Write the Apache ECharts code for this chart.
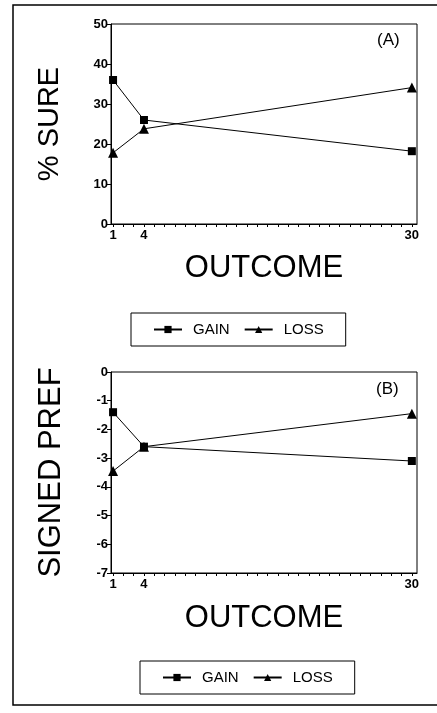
<!DOCTYPE html>
<html>
<head>
<meta charset="utf-8">
<script src="https://cdn.jsdelivr.net/npm/echarts@6/dist/echarts.min.js"></script>
<style>
html,body{margin:0;padding:0;background:#fff;}
#c{width:437px;height:713px;}
</style>
</head>
<body>
<div id="c"></div>
<script>
var outcomes = [1, 4, 30];
var gainSure = [36, 26, 18.2];
var lossSure = [17.8, 23.8, 34.1];
var gainPref = [-1.4, -2.6, -3.1];
var lossPref = [-3.45, -2.6, -1.45];
var xTickValues = [1,2,3,4,5,6,7,8,9,10,11,12,13,14,15,16,17,18,19,20,21,22,23,24,25,26,27,28,29,30];
var xTickLabels = [1, 4, 30];
var seriesNames = ['GAIN', 'LOSS'];

function pairs(ys) { return outcomes.map(function (x, i) { return [x, ys[i]]; }); }

var FONT = 'Liberation Sans';
var chart = echarts.init(document.getElementById('c'), null, {renderer: 'canvas'});

function xAxisDef(gi, gap) {
  return {
    type: 'value', gridIndex: gi, min: 0.8, max: 30.5,
    name: 'OUTCOME', nameLocation: 'middle', nameGap: gap,
    nameTextStyle: {fontFamily: FONT, fontSize: 31, color: '#000'},
    axisLine: {show: true, onZero: false, lineStyle: {color: '#000', width: 1}},
    axisTick: {show: true, length: 3, customValues: xTickValues, lineStyle: {color: '#000'}},
    axisLabel: {customValues: xTickLabels, margin: 5, fontFamily: FONT, fontSize: 13, fontWeight: 'bold', color: '#000'},
    splitLine: {show: false}
  };
}
function yAxisDef(gi, min, max, interval, name, size, gap) {
  return {
    type: 'value', gridIndex: gi, min: min, max: max, interval: interval,
    name: name, nameLocation: 'middle', nameGap: gap, nameRotate: 90,
    nameTextStyle: {fontFamily: FONT, fontSize: size, color: '#000'},
    axisLine: {show: true, onZero: false, lineStyle: {color: '#000', width: 1}},
    axisTick: {show: true, length: 4, lineStyle: {color: '#000'}},
    axisLabel: {margin: 3, fontFamily: FONT, fontSize: 13, fontWeight: 'bold', color: '#000'},
    splitLine: {show: false}
  };
}
function legendDef(left, top) {
  return {
    left: left, top: top, data: seriesNames,
    orient: 'horizontal',
    borderColor: '#000', borderWidth: 1, borderRadius: 0,
    padding: [9, 22, 9, 22],
    itemWidth: 28, itemHeight: 9, itemGap: 14,
    selectedMode: false,
    textStyle: {fontFamily: FONT, fontSize: 15, color: '#000', padding: [0, 0, 0, 6]}
  };
}
function lineSeries(name, xi, ys, sym, size, z) {
  return {
    type: 'line', name: name, xAxisIndex: xi, yAxisIndex: xi,
    data: pairs(ys), symbol: sym, symbolSize: size, z: z,
    lineStyle: {color: '#000', width: 1},
    itemStyle: {color: '#000'},
    animation: false
  };
}

chart.setOption({
  backgroundColor: '#fff',
  animation: false,
  grid: [
    {left: 111, top: 24, width: 306, height: 200, show: true, borderColor: '#000', borderWidth: 1},
    {left: 111, top: 372, width: 306, height: 201, show: true, borderColor: '#000', borderWidth: 1}
  ],
  xAxis: [xAxisDef(0, 29), xAxisDef(1, 30)],
  yAxis: [
    yAxisDef(0, 0, 50, 10, '% SURE', 29, 47),
    yAxisDef(1, -7, 0, 1, 'SIGNED PREF', 31, 44)
  ],
  legend: [legendDef(131, 313), legendDef(140, 661)],
  graphic: [
    {type: 'rect', shape: {x: 13, y: 5, width: 440, height: 700}, style: {fill: 'none', stroke: '#000', lineWidth: 1.5}, silent: true},
    {type: 'text', x: 377, y: 32, style: {text: '(A)', font: '17px "Liberation Sans"', fill: '#000'}},
    {type: 'text', x: 376, y: 381, style: {text: '(B)', font: '17px "Liberation Sans"', fill: '#000'}}
  ],
  series: [
    lineSeries('LOSS', 0, lossSure, 'triangle', 10, 2),
    lineSeries('GAIN', 0, gainSure, 'rect', 8, 3),
    lineSeries('LOSS', 1, lossPref, 'triangle', 10, 2),
    lineSeries('GAIN', 1, gainPref, 'rect', 8, 3)
  ]
});
</script>
</body>
</html>
